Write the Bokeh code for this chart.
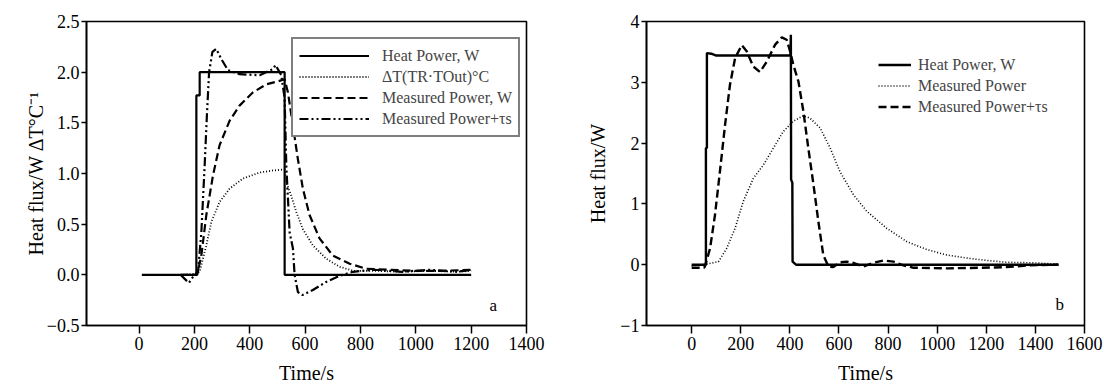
from bokeh.plotting import figure
from bokeh.layouts import row
from bokeh.models import FixedTicker, CustomJSTickFormatter, Legend, LegendItem, Label
from bokeh.embed import file_html
from bokeh.resources import INLINE

FONT = "Liberation Serif"

# ---------------- Panel a data ----------------
a_heat_t = [10, 207, 207, 219, 219, 526, 526, 1200]
a_heat_v = [0, 0, 1.77, 1.77, 2.0, 2.0, 0, 0]

a_dt_t = [150, 200, 219, 243, 261, 291, 327, 375, 436, 484, 526, 532, 550, 568, 592, 628,
          676, 724, 773, 850, 950, 1050, 1150, 1200]
a_dt_v = [0, 0.01, 0.03, 0.29, 0.52, 0.72, 0.85, 0.95, 1.01, 1.03, 1.04, 0.91, 0.78, 0.62,
          0.45, 0.29, 0.16, 0.08, 0.04, 0.04, 0.03, 0.04, 0.03, 0.04]

a_mp_t = [150, 210, 225, 243, 267, 291, 327, 363, 411, 460, 502, 526, 538, 556, 574, 592,
          616, 652, 700, 761, 821, 900, 1000, 1100, 1200]
a_mp_v = [0, 0.0, 0.19, 0.59, 0.98, 1.28, 1.52, 1.67, 1.80, 1.88, 1.91, 1.93, 1.80, 1.47,
          1.14, 0.85, 0.59, 0.36, 0.19, 0.11, 0.06, 0.05, 0.04, 0.04, 0.05]

a_mpt_t = [150, 165, 180, 195, 213, 225, 237, 245, 253, 265, 279, 297, 321, 363, 436, 484,
           493, 514, 526, 532, 544, 556, 562, 574, 590, 628, 676, 724, 773, 850, 950, 1050,
           1150, 1200]
a_mpt_v = [0, -0.04, -0.08, -0.02, 0.03, 0.42, 1.08, 1.57, 2.0, 2.2, 2.23, 2.13, 2.02, 1.98,
           1.97, 2.03, 2.07, 1.97, 1.74, 1.08, 0.42, 0.26, 0.0, -0.17, -0.2, -0.15, -0.07,
           -0.01, 0.03, 0.05, 0.03, 0.05, 0.03, 0.05]

a_labels = ["Heat Power, W", "\u0394T(TR\u00b7TOut)\u00b0C", "Measured Power, W",
            "Measured Power+\u03c4s"]
a_xticks = [0, 200, 400, 600, 800, 1000, 1200, 1400]
a_yticks = [-0.5, 0.0, 0.5, 1.0, 1.5, 2.0, 2.5]

# ---------------- Panel b data ----------------
b_heat_t = [0, 58, 58, 62, 62, 80, 100, 402, 404, 405, 410, 411, 425, 1494]
b_heat_v = [0, 0, 1.92, 1.92, 3.48, 3.47, 3.44, 3.44, 3.78, 1.40, 1.35, 0.05, 0.0, 0.0]

b_mp_t = [0, 61, 109, 143, 177, 210, 251, 292, 333, 373, 414, 455, 482, 523, 564, 604, 659,
          713, 794, 876, 957, 1039, 1120, 1202, 1283, 1392, 1494]
b_mp_v = [-0.02, 0.01, 0.05, 0.27, 0.60, 1.04, 1.42, 1.64, 1.92, 2.19, 2.36, 2.45, 2.41,
          2.25, 1.92, 1.53, 1.15, 0.88, 0.60, 0.38, 0.25, 0.16, 0.11, 0.07, 0.04, 0.03, 0.01]

b_mpt_t = [0, 50, 54, 75, 95, 115, 136, 156, 177, 204, 224, 251, 278, 306, 340, 367, 387, 401,
           414, 435, 455, 475, 496, 516, 536, 557, 577, 604, 631, 659, 699, 740, 781, 822, 862,
           903, 1039, 1175, 1283, 1378, 1494]
b_mpt_v = [-0.05, -0.05, -0.03, 0.27, 0.82, 1.53, 2.30, 2.96, 3.40, 3.61, 3.51, 3.26, 3.17,
           3.34, 3.62, 3.74, 3.70, 3.51, 3.29, 3.01, 2.52, 1.92, 1.32, 0.71, 0.16, -0.03, -0.04,
           0.04, 0.05, 0.03, -0.03, 0.03, 0.07, 0.05, -0.01, -0.05, -0.06, -0.05, -0.04, -0.01,
           0.0]

b_labels = ["Heat Power, W", "Measured Power", "Measured Power+\u03c4s"]
b_xticks = [0, 200, 400, 600, 800, 1000, 1200, 1400, 1600]
b_yticks = [-1, 0, 1, 2, 3, 4]


def style(p, xticks, yticks, dec, ylabel_standoff):
    p.outline_line_color = "black"
    p.outline_line_width = 1.6
    p.xgrid.visible = False
    p.ygrid.visible = False
    p.background_fill_color = "white"
    p.border_fill_color = "white"
    for ax in (p.xaxis[0], p.yaxis[0]):
        ax.axis_line_width = 1.6
        ax.axis_line_color = "black"
        ax.major_tick_line_width = 1.5
        ax.major_tick_line_color = "black"
        ax.minor_tick_line_color = None
        ax.major_tick_in = 0
        ax.major_label_text_font = FONT
        ax.major_label_text_font_size = "18px"
        ax.major_label_text_color = "black"
        ax.axis_label_text_font = FONT
        ax.axis_label_text_font_size = "20px"
        ax.axis_label_text_font_style = "normal"
        ax.axis_label_text_color = "black"
    xa = p.xaxis[0]
    xa.ticker = FixedTicker(ticks=xticks)
    xa.major_tick_out = 8
    xa.major_label_standoff = 3
    xa.axis_label_standoff = 9
    ya = p.yaxis[0]
    ya.ticker = FixedTicker(ticks=yticks)
    ya.formatter = CustomJSTickFormatter(
        args=dict(dec=dec),
        code="return (tick < 0 ? '\u2212' : '') + Math.abs(tick).toFixed(dec);")
    ya.major_tick_out = 5
    ya.major_label_standoff = 2
    ya.axis_label_standoff = ylabel_standoff


def make_legend(items, loc, glyph_w, standoff, pad, border):
    leg = Legend(items=items, location=loc)
    leg.label_text_font = FONT
    leg.label_text_font_size = "16px"
    leg.label_height = 21
    leg.glyph_height = 21
    leg.glyph_width = glyph_w
    leg.label_standoff = standoff
    leg.padding = pad
    leg.spacing = 0
    leg.margin = 0
    if border:
        leg.border_line_color = "black"
        leg.border_line_width = 2
        leg.background_fill_color = "white"
        leg.background_fill_alpha = 1
    else:
        leg.border_line_color = None
        leg.background_fill_alpha = 0
    return leg


# ---------------- Figure a ----------------
pa = figure(width=560, height=388, x_range=(-190, 1400), y_range=(-0.5, 2.5),
            min_border_left=86, min_border_right=34, min_border_top=21, min_border_bottom=63,
            output_backend="svg", toolbar_location=None,
            x_axis_label="Time/s", y_axis_label="Heat flux/W \u0394T\u00b0C\u207b\u00b9")
style(pa, a_xticks, a_yticks, 1, -3)

ra1 = pa.line(a_heat_t, a_heat_v, line_color="black", line_width=2.2)
ra2 = pa.line(a_dt_t, a_dt_v, line_color="black", line_width=1.8, line_dash="1 2")
ra3 = pa.line(a_mp_t, a_mp_v, line_color="black", line_width=2.2, line_dash="8 4")
ra4 = pa.line(a_mpt_t, a_mpt_v, line_color="black", line_width=2.2, line_dash="9 3 2 3 2 3")

leg_a = make_legend([LegendItem(label=lab, renderers=[r])
                     for lab, r in zip(a_labels, [ra1, ra2, ra3, ra4])],
                    (205, 188), 70, 13, 6, True)
pa.add_layout(leg_a)

pa.add_layout(Label(x=1280, y=-0.30, text="a", text_font=FONT, text_font_size="17px",
                    text_align="center", text_baseline="middle", text_color="black"))

# ---------------- Figure b ----------------
pb = figure(width=544, height=388, x_range=(-184, 1600), y_range=(-1, 4),
            min_border_left=86, min_border_right=20, min_border_top=21, min_border_bottom=63,
            output_backend="svg", toolbar_location=None,
            x_axis_label="Time/s", y_axis_label="Heat flux/W")
style(pb, b_xticks, b_yticks, 0, 8)

rb1 = pb.line(b_heat_t, b_heat_v, line_color="black", line_width=2.4)
rb2 = pb.line(b_mp_t, b_mp_v, line_color="black", line_width=1.6, line_dash="1 2")
rb3 = pb.line(b_mpt_t, b_mpt_v, line_color="black", line_width=2.4, line_dash="8 4")

leg_b = make_legend([LegendItem(label=lab, renderers=[r])
                     for lab, r in zip(b_labels, [rb1, rb2, rb3])],
                    (232, 208), 33, 7, 5, False)
pb.add_layout(leg_b)

pb.add_layout(Label(x=1499, y=-0.65, text="b", text_font=FONT, text_font_size="17px",
                    text_align="center", text_baseline="middle", text_color="black"))

layout = row(pa, pb)
open("out.html", "w").write(file_html(layout, INLINE))
